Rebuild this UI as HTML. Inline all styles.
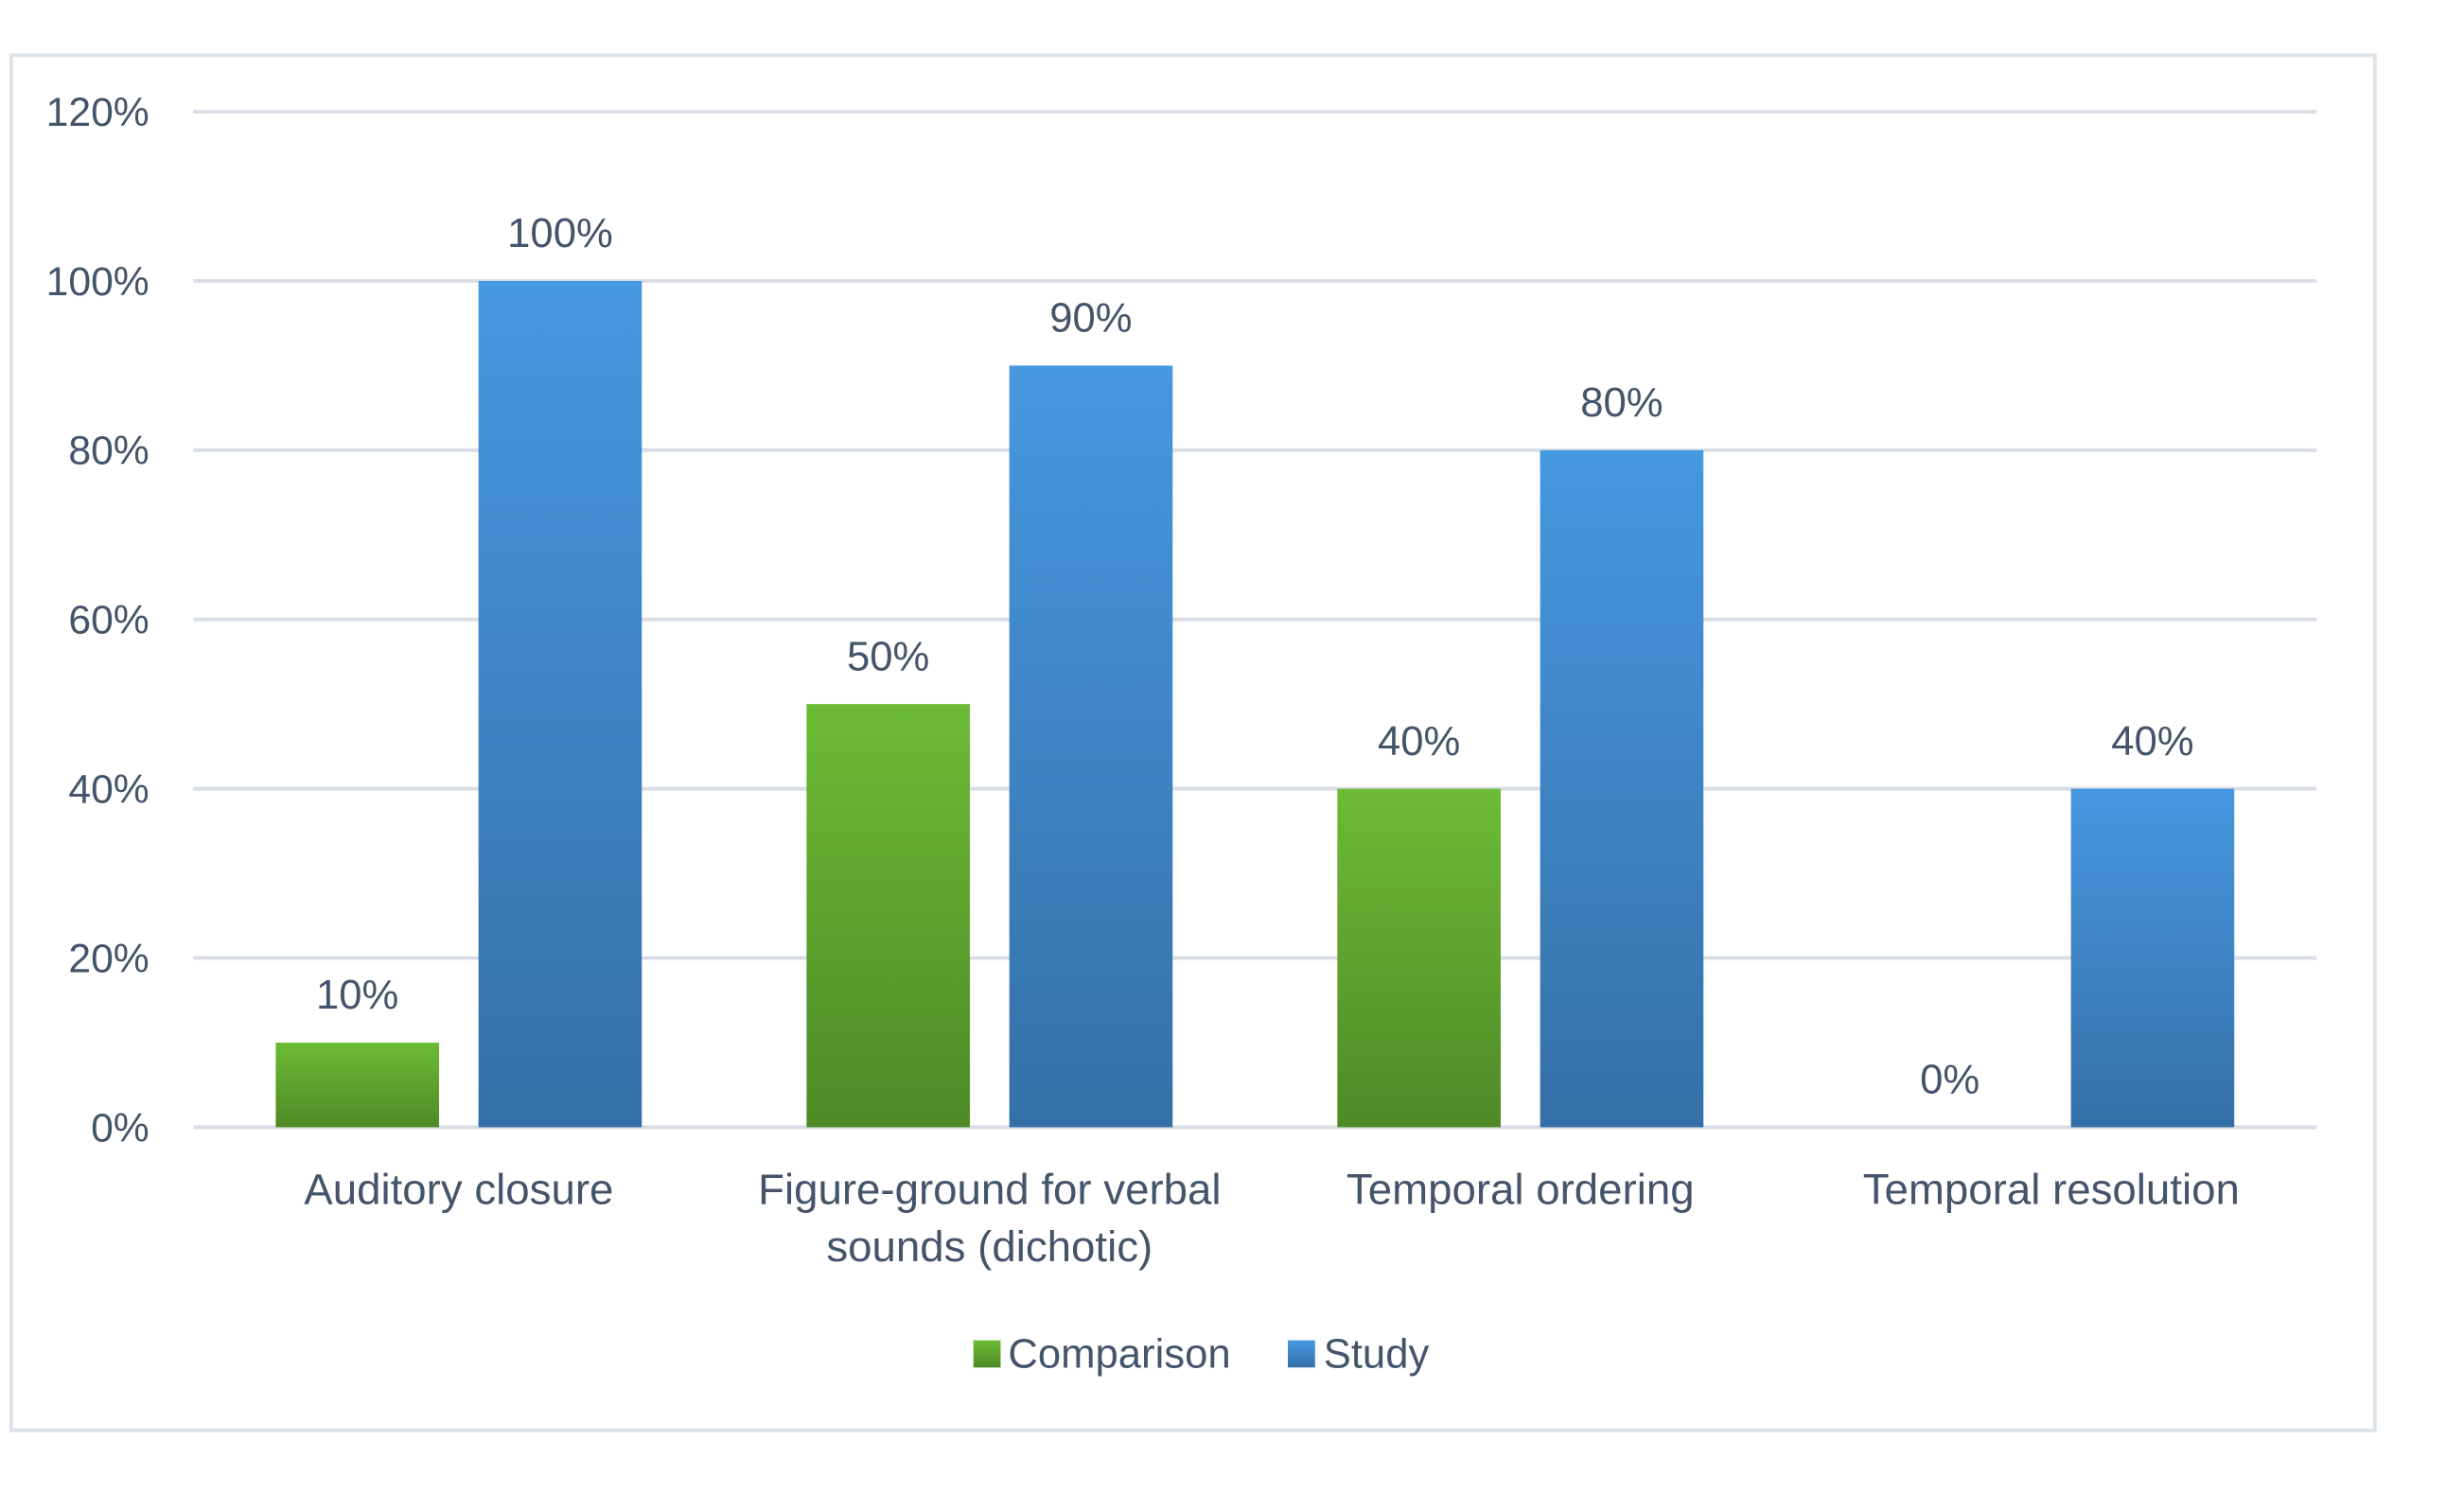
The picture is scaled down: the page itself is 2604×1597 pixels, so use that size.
<!DOCTYPE html>
<html><head><meta charset="utf-8"><style>
html,body{margin:0;padding:0;background:#fff;}
svg{display:block;}
text{font-family:"Liberation Sans",sans-serif;fill:#44546a;}
</style></head><body>
<svg id="chart" width="2604" height="1597" viewBox="0 0 2604 1597" xmlns="http://www.w3.org/2000/svg">
<defs>
<linearGradient id="gG" x1="0" y1="0" x2="0" y2="1"><stop offset="0" stop-color="#6cbb35"/><stop offset="1" stop-color="#4e8a26"/></linearGradient>
<linearGradient id="gB" x1="0" y1="0" x2="0" y2="1"><stop offset="0" stop-color="#4698e0"/><stop offset="1" stop-color="#3570a8"/></linearGradient>
</defs>
<g transform="scale(0.992)">
<rect x="12" y="59" width="2518" height="1465" fill="#fff" stroke="#dde3ea" stroke-width="4"/>
<g id="grid"></g><g id="bars"></g><g id="labels"></g>
<g>
<rect x="1037" y="1428" width="29" height="29" fill="url(#gG)"/>
<text x="1074" y="1457" font-size="44">Comparison</text>
<rect x="1372" y="1428" width="29" height="29" fill="url(#gB)"/>
<text x="1410" y="1457" font-size="44">Study</text>
</g>
</g>
</svg>
<script>
const categories = [["Auditory closure"],["Figure-ground for verbal","sounds (dichotic)"],["Temporal ordering"],["Temporal resolution"]];
const comparison = [10, 50, 40, 0];
const study = [100, 90, 80, 40];
const yTicks = [0, 20, 40, 60, 80, 100, 120];

const NS = "http://www.w3.org/2000/svg";
const x0 = 206, x1 = 2468, y0 = 1201, yTop = 119, yMax = 120;
const y = v => y0 - (v / yMax) * (y0 - yTop);
const catW = (x1 - x0) / categories.length;
const cx = i => x0 + catW * (i + 0.5);
const barW = 174, off = 108;
function mk(tag, attrs, parent){const e=document.createElementNS(NS,tag);for(const k in attrs)e.setAttribute(k,attrs[k]);parent.appendChild(e);return e;}
const grid=document.getElementById('grid'), bars=document.getElementById('bars'), labels=document.getElementById('labels');
yTicks.forEach(t=>{
  const l=mk('line',{x1:x0,x2:x1,y1:y(t),y2:y(t),stroke:'#d9dee6','stroke-width':4},grid);
  
  
  const tx=mk('text',{x:159,y:y(t)+15,'font-size':43,'text-anchor':'end'},grid);
  tx.textContent=t+'%';
  
  
});
categories.forEach((c,i)=>{
  [[comparison,-off,'url(#gG)','comparison'],[study,off,'url(#gB)','study']].forEach(([arr,o,fill,nm])=>{
    const v=arr[i], bx=cx(i)+o-barW/2;
    const r=mk('rect',{x:bx,y:y(v),width:barW,height:y0-y(v),fill:fill},bars);
    
    
    const t=mk('text',{x:cx(i)+o,y:y(v)-36,'font-size':44,'text-anchor':'middle'},labels);
    t.textContent=v+'%';
    
    
  });
  c.forEach((line,j)=>{
    const t=mk('text',{x:cx(i),y:1283+j*61,'font-size':46,'text-anchor':'middle'},labels);
    t.textContent=line;
    
    
  });
});
</script>
</body></html>
